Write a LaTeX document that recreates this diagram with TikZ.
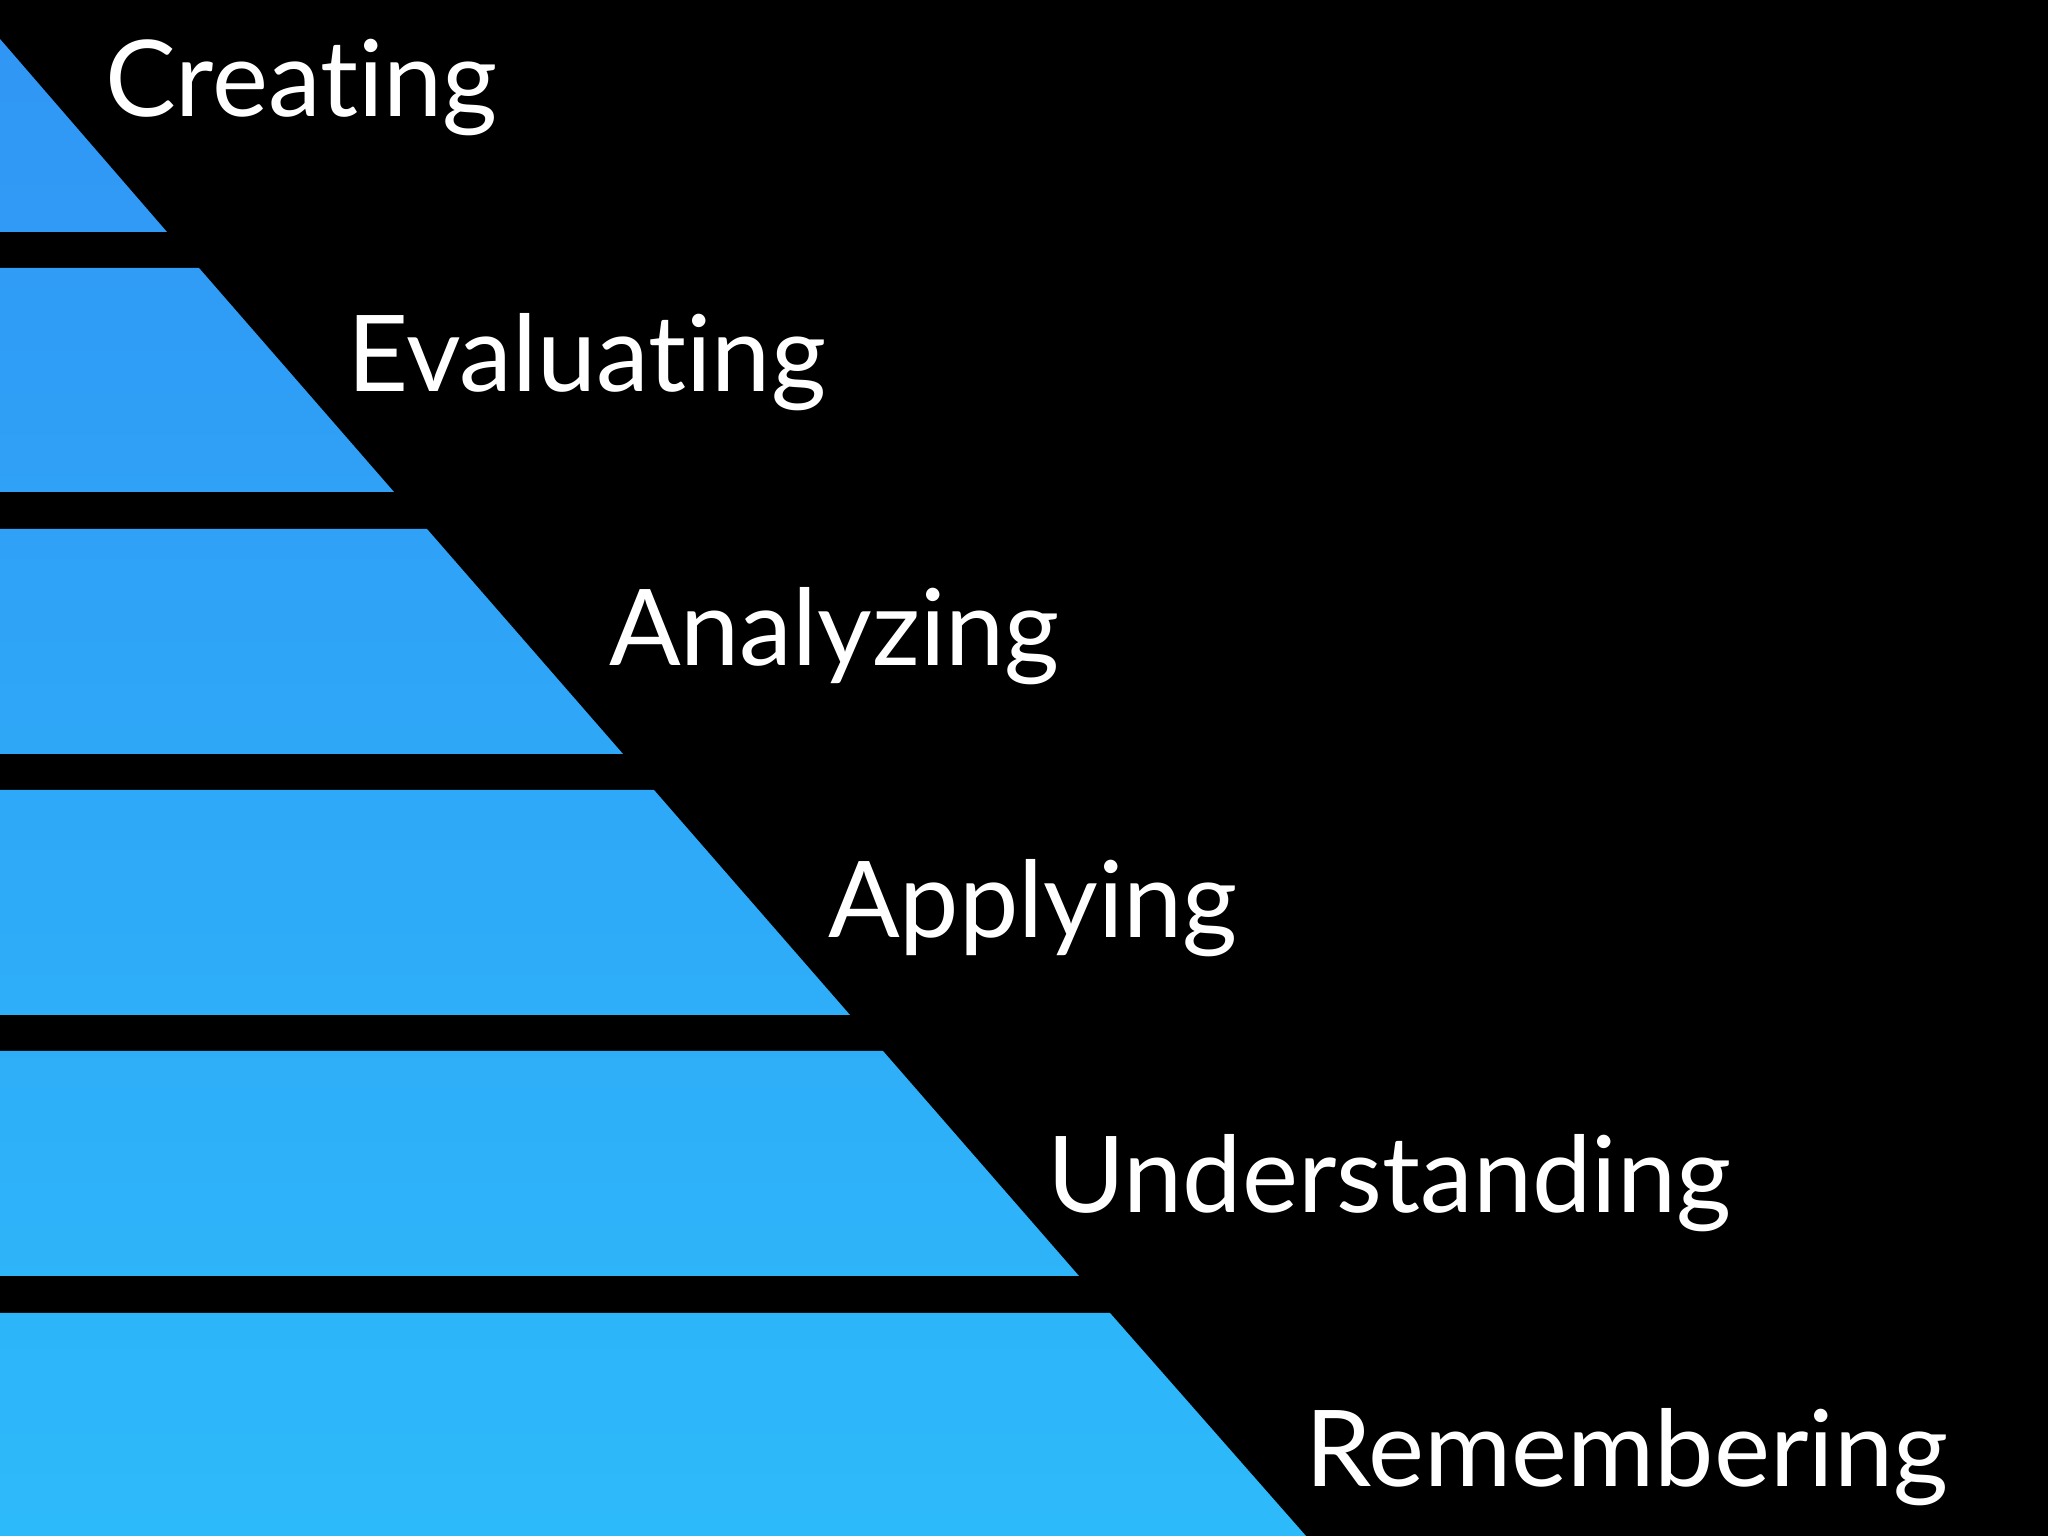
\documentclass[tikz,border=0pt]{standalone}
\usepackage{fontspec}
\setmainfont{Lato}[Ligatures={NoCommon,NoRare,NoContextual}]
\definecolor{bandtop}{RGB}{48,150,245}
\definecolor{bandbot}{RGB}{45,186,250}
\tikzset{
  level/.style={anchor=base west, inner sep=0pt, text=white, font=\fontsize{106}{120}\selectfont},
}
\begin{document}
\begin{tikzpicture}[x=1pt,y=1pt]
\fill[black] (0,0) rectangle (2048,1536);
\useasboundingbox (0,0) rectangle (2048,1536);
\shade[top color=bandtop, bottom color=bandbot]
  (0,1497) -- (167,1304) -- (0,1304) -- cycle
  (0,1268) -- (199,1268) -- (394,1044) -- (0,1044) -- cycle
  (0,1007) -- (427,1007) -- (623,782) -- (0,782) -- cycle
  (0,746) -- (654,746) -- (850,521) -- (0,521) -- cycle
  (0,485) -- (883,485) -- (1079,260) -- (0,260) -- cycle
  (0,223) -- (1110,223) -- (1306,0) -- (0,0) -- cycle;
\node[level] (creating) at (105,1419) {Creating};
\node[level] (evaluating) at (347,1144) {Evaluating};
\node[level] (analyzing) at (609,870) {Analyzing};
\node[level] (applying) at (828,598) {Applying};
\node[level] (understanding) at (1047,323) {Understanding};
\node[level] (remembering) at (1305,49) {Remembering};
\end{tikzpicture}
\end{document}
